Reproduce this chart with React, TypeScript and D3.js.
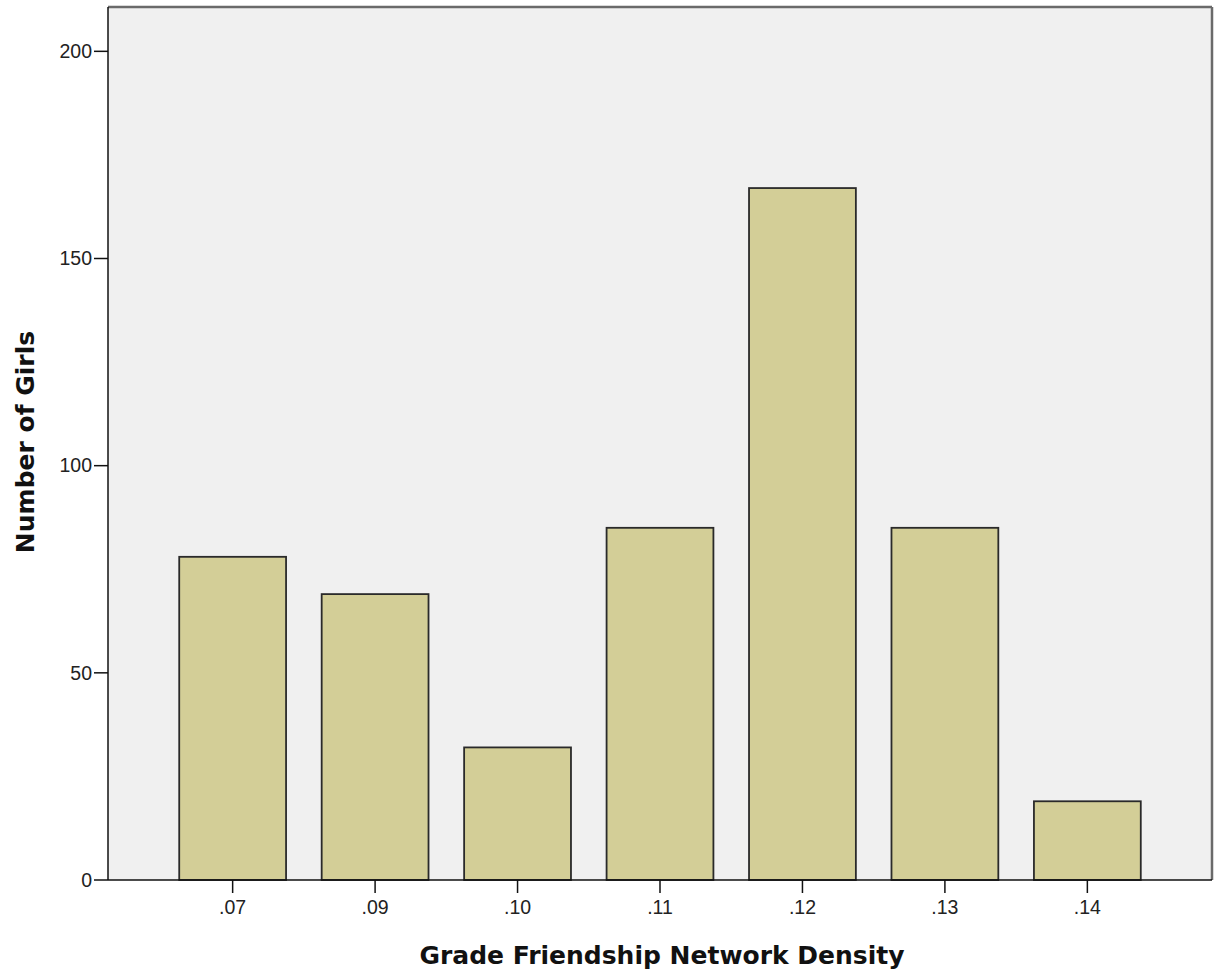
import React from "react";
import * as d3 from "d3";

const categories = [".07", ".09", ".10", ".11", ".12", ".13", ".14"];
const counts = [78, 69, 32, 85, 167, 85, 19];
const yTicks = [0, 50, 100, 150, 200];

const W = 1217;
const H = 970;
const left = 108;
const right = 1212;
const top = 7;
const bottom = 880;

export default function App() {
  const x = d3
    .scaleBand<string>()
    .domain(categories)
    .range([left, right])
    .paddingInner(0.25)
    .paddingOuter(0.5);
  const y = d3.scaleLinear().domain([0, 210.7]).range([bottom, top]);
  const font = "Arial, 'Liberation Sans', sans-serif";
  const titleFont = "'DejaVu Sans', Verdana, sans-serif";

  return (
    <svg
      width={W}
      height={H}
      style={{ position: "absolute", left: 0, top: 0 }}
      fontFamily={font}
    >
      <rect x={left} y={top} width={right - left} height={bottom - top} fill="#F0F0F0" />
      <line x1={left} y1={top} x2={right} y2={top} stroke="#6a6a6a" strokeWidth={2.5} />
      <line x1={right} y1={top} x2={right} y2={bottom} stroke="#6a6a6a" strokeWidth={2.5} />
      {categories.map((c, i) => (
        <rect
          key={c}
          x={x(c)}
          y={y(counts[i])}
          width={x.bandwidth()}
          height={y(0) - y(counts[i])}
          fill="#D3CE97"
          stroke="#2a2a2a"
          strokeWidth={1.8}
        />
      ))}
      <line x1={left} y1={top} x2={left} y2={bottom} stroke="#111" strokeWidth={1.5} />
      <line x1={left} y1={bottom} x2={right} y2={bottom} stroke="#111" strokeWidth={1.5} />
      {yTicks.map((t) => (
        <g key={t}>
          <line x1={left - 14} x2={left} y1={y(t)} y2={y(t)} stroke="#111" strokeWidth={1.5} />
          <text x={left - 16} y={y(t)} dy="0.35em" textAnchor="end" fontSize={19.5} fill="#222">
            {t}
          </text>
        </g>
      ))}
      {categories.map((c) => {
        const cx = (x(c) as number) + x.bandwidth() / 2;
        return (
          <g key={c}>
            <line x1={cx} x2={cx} y1={bottom} y2={bottom + 13} stroke="#111" strokeWidth={1.5} />
            <text x={cx} y={bottom + 34} textAnchor="middle" fontSize={19.5} fill="#222">
              {c}
            </text>
          </g>
        );
      })}
      <text
        x={662}
        y={964}
        textAnchor="middle"
        fontSize={25}
        fontWeight="bold"
        fontFamily={titleFont}
        fill="#111"
      >
        Grade Friendship Network Density
      </text>
      <text
        transform={`translate(34, 442) rotate(-90)`}
        textAnchor="middle"
        fontSize={25}
        fontWeight="bold"
        fontFamily={titleFont}
        fill="#111"
      >
        Number of Girls
      </text>
    </svg>
  );
}
